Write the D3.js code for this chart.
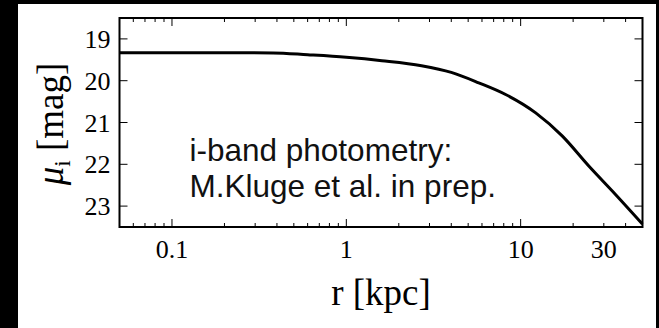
<!DOCTYPE html>
<html>
<head>
<meta charset="utf-8">
<script src="https://cdn.jsdelivr.net/npm/d3@7"></script>
<style>
  body { margin: 0; background: #000; }
  svg { display: block; }
</style>
</head>
<body>
<div id="chart"></div>
<script>
// surface brightness profile
const radius = [0.05, 0.1, 0.2, 0.38, 0.6, 1.0, 1.6, 2.7, 4.0, 5.75, 8.2, 12.2, 17.3, 24.6, 35, 50];
const mu     = [19.33, 19.33, 19.33, 19.335, 19.38, 19.44, 19.52, 19.64, 19.80, 20.05, 20.33, 20.77, 21.32, 22.04, 22.72, 23.43];

const xTickLabels = [0.1, 1, 10, 30];
const xMajor = [0.1, 1, 10];
const yTicks = [19, 20, 21, 22, 23];
const noteLines = ["i-band photometry:", "M.Kluge et al. in prep."];

const W = 659, H = 328;
const margin = {top: 18, right: 16.5, bottom: 101, left: 119.5},
    width = W - margin.left - margin.right,
    height = H - margin.top - margin.bottom;

const root = d3.select("#chart")
    .append("svg")
    .attr("width", W)
    .attr("height", H);

root.append("rect")
    .attr("width", W).attr("height", H)
    .attr("fill", "#000");
root.append("rect")
    .attr("x", 18).attr("y", 4)
    .attr("width", 638).attr("height", H - 4)
    .attr("fill", "#fff");

const svg = root.append("g")
    .attr("transform", `translate(${margin.left},${margin.top})`);

const x = d3.scaleLog()
    .domain([0.05, 50])
    .range([0, width]);

const y = d3.scaleLinear()
    .domain([18.5, 23.5])
    .range([0, height]);

// minor ticks of the log axis (2..9 in each decade)
const xMinor = [];
[0.01, 0.1, 1, 10].forEach(dec => {
    for (let k = 2; k <= 9; k++) {
        const v = dec * k;
        if (v >= 0.05 && v < 50) xMinor.push(v);
    }
});

const serif = "'Liberation Serif', 'DejaVu Serif', serif";

// ticks point inwards, on all four sides
const tickG = svg.append("g").attr("stroke", "#000").attr("stroke-width", 1);
const add = (x1, y1, x2, y2) => tickG.append("line")
    .attr("x1", x1).attr("y1", y1).attr("x2", x2).attr("y2", y2);
xMajor.forEach(v => { add(x(v), height, x(v), height - 8); add(x(v), 0, x(v), 8); });
xMinor.forEach(v => { add(x(v), height, x(v), height - 4); add(x(v), 0, x(v), 4); });
yTicks.forEach(v => { add(0, y(v), 8, y(v)); add(width, y(v), width - 8, y(v)); });

// tick labels
svg.append("g")
    .selectAll("text")
    .data(xTickLabels)
    .join("text")
    .attr("x", d => x(d))
    .attr("y", height + 31)
    .attr("text-anchor", "middle")
    .attr("font-family", serif)
    .attr("font-size", 26)
    .text(d => d);

svg.append("g")
    .selectAll("text")
    .data(yTicks)
    .join("text")
    .attr("x", -9)
    .attr("y", d => y(d))
    .attr("dy", "0.35em")
    .attr("text-anchor", "end")
    .attr("font-family", serif)
    .attr("font-size", 26)
    .text(d => d);

// profile
const line = d3.line()
    .x((d, i) => x(radius[i]))
    .y(d => y(d))
    .curve(d3.curveMonotoneX);

svg.append("path")
    .datum(mu)
    .attr("fill", "none")
    .attr("stroke", "#000")
    .attr("stroke-width", 3)
    .attr("d", line);

// frame
svg.append("rect")
    .attr("width", width).attr("height", height)
    .attr("fill", "none")
    .attr("stroke", "#000")
    .attr("stroke-width", 2);

// note
svg.append("g")
    .selectAll("text")
    .data(noteLines)
    .join("text")
    .attr("x", 70)
    .attr("y", (d, i) => 143 + i * 36)
    .attr("font-family", "'Liberation Sans', Arial, sans-serif")
    .attr("font-size", 31.5)
    .attr("fill", "#111")
    .text(d => d);

// axis titles
svg.append("text")
    .attr("x", width / 2)
    .attr("y", height + 78)
    .attr("text-anchor", "middle")
    .attr("font-family", serif)
    .attr("font-size", 37)
    .text("r [kpc]");

const yl = root.append("text")
    .attr("transform", "translate(63,124) rotate(-90)")
    .attr("text-anchor", "middle")
    .attr("font-family", serif)
    .attr("font-size", 37);
yl.append("tspan").attr("font-style", "italic").text("μ");
yl.append("tspan").attr("font-size", 23).attr("dy", 7).text("i");
yl.append("tspan").attr("dy", -7).text(" [mag]");
</script>
</body>
</html>
